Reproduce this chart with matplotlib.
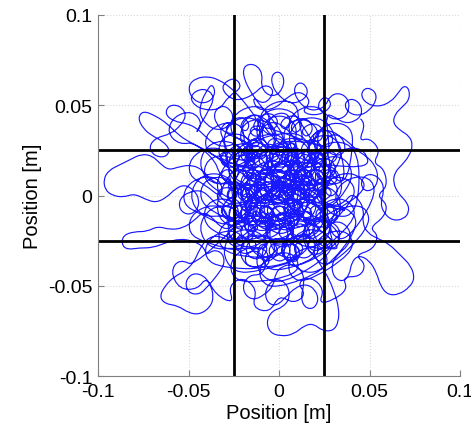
import numpy as np
import matplotlib.pyplot as plt
from matplotlib.path import Path
from matplotlib.patches import PathPatch

plt.rcParams["font.family"] = ["Liberation Sans", "DejaVu Sans"]

# trajectory pieces, in millimetres
core_1 = [(0, 0), (6, 3), (10, 9), (9, 15), (4, 18), (-2, 16), (-5, 10), (-3, 4), (2, 1), (8, 2),
          (13, 6), (15, 12), (13, 18), (8, 22), (2, 23), (-4, 21), (-9, 16), (-12, 9), (-11, 2),
          (-7, -3), (-1, -5), (5, -3), (9, 1), (10, 7), (7, 11), (2, 11), (-1, 7), (1, 2), (6, -2),
          (12, -3), (17, 0), (20, 5), (19, 11), (15, 15), (10, 14), (8, 9), (11, 4), (17, 2),
          (23, 4), (26, 9), (25, 15), (21, 19), (16, 18), (14, 13)]

top_loops = [(15, 8), (18, 14), (19, 21), (16, 27), (11, 31), (5, 32), (0, 29), (-2, 24), (1, 19),
             (6, 18), (10, 22), (10, 28), (7, 34), (2, 39), (-4, 41), (-9, 38), (-11, 32), (-8, 27),
             (-3, 27), (-1, 32), (-3, 38), (-8, 43), (-14, 45), (-19, 42), (-21, 36), (-18, 31),
             (-13, 30), (-10, 35), (-12, 42), (-17, 49), (-22, 55), (-27, 60), (-33, 64), (-39, 66),
             (-46, 65), (-50, 61), (-49, 55), (-44, 51), (-38, 52), (-35, 57), (-37, 62), (-40, 58),
             (-43, 52), (-44, 45), (-40, 39), (-34, 36), (-28, 38), (-25, 43), (-27, 48), (-32, 50),
             (-36, 46), (-35, 40), (-30, 35), (-24, 32), (-18, 30), (-14, 25), (-13, 19), (-16, 14),
             (-21, 13), (-24, 17), (-22, 22), (-17, 24), (-11, 22), (-7, 17), (-6, 11)]

top_center = [(-3, 14), (1, 20), (3, 27), (2, 34), (-2, 40), (-7, 46), (-12, 52), (-16, 58),
              (-19, 64), (-20, 70), (-17, 73), (-12, 72), (-9, 67), (-10, 61), (-7, 56), (-2, 55),
              (2, 59), (3, 65), (0, 69), (-4, 67), (-4, 61), (0, 55), (6, 51), (12, 52), (16, 56),
              (15, 61), (11, 63), (8, 59), (10, 53), (15, 48), (21, 47), (26, 50), (28, 55),
              (33, 57), (38, 54), (39, 48), (36, 43), (30, 42), (26, 45)]

upper_right = [(30, 44), (36, 40), (42, 41), (46, 45), (45, 51), (40, 54), (36, 51), (38, 46),
               (44, 44), (50, 47), (54, 53), (53, 58), (48, 60), (45, 56), (48, 51), (55, 49),
               (62, 52), (66, 57), (69, 61), (72, 59), (72, 53), (68, 49), (64, 45), (63, 40),
               (67, 36), (72, 33), (74, 28), (72, 22), (68, 17), (64, 13), (63, 7), (66, 1),
               (71, -4), (72, -9), (69, -13), (63, -14), (58, -10), (56, -4), (58, 2), (57, 8),
               (52, 12), (47, 11), (45, 6), (48, 2), (53, 4), (55, 10), (53, 17), (48, 22),
               (43, 25), (38, 30), (32, 34), (27, 33), (25, 28), (28, 23), (34, 22), (37, 26),
               (35, 32), (29, 36), (22, 36), (17, 32), (16, 26), (19, 22), (24, 20), (28, 15),
               (29, 9), (26, 4), (21, 2)]

lower_right = [(24, -3), (30, -6), (36, -4), (40, 1), (44, -2), (47, -8), (46, -15), (49, -21),
               (55, -24), (61, -27), (67, -33), (73, -39), (75, -46), (72, -51), (66, -55),
               (60, -55), (56, -50), (54, -43), (50, -36), (44, -33), (40, -37), (39, -44),
               (35, -48), (30, -45), (29, -38), (33, -32), (38, -28), (40, -22), (37, -16),
               (31, -14), (26, -18), (24, -24), (27, -29), (32, -29), (34, -23), (30, -17),
               (24, -13), (18, -13)]

bottom = [(14, -17), (13, -24), (16, -30), (20, -34), (24, -40), (28, -47), (31, -55), (33, -62),
          (33, -70), (30, -75), (24, -75), (19, -71), (14, -72), (8, -77), (1, -78), (-5, -76),
          (-7, -70), (-4, -64), (2, -62), (6, -57), (5, -50), (0, -46), (-5, -48), (-8, -54),
          (-6, -60), (-1, -61), (4, -56), (9, -51), (15, -49), (20, -52), (22, -58), (19, -63),
          (14, -62), (12, -56), (14, -49), (13, -42), (8, -38), (2, -39), (-2, -43), (-3, -50),
          (-8, -55), (-14, -58), (-19, -55), (-20, -49), (-16, -44), (-10, -44), (-7, -39),
          (-9, -33), (-14, -30), (-19, -33), (-18, -39), (-12, -40), (-6, -36), (-2, -30),
          (3, -27), (9, -27), (12, -31), (10, -37), (4, -36), (1, -31), (3, -24), (8, -20),
          (9, -14), (5, -9), (-1, -10)]

lower_left = [(-6, -14), (-12, -16), (-17, -20), (-22, -24), (-28, -25), (-34, -22), (-40, -24),
              (-44, -30), (-47, -37), (-52, -42), (-58, -45), (-63, -50), (-66, -56), (-63, -60),
              (-56, -61), (-50, -65), (-44, -66), (-38, -62), (-36, -56), (-38, -49), (-42, -44),
              (-48, -43), (-52, -48), (-50, -54), (-44, -55), (-39, -50), (-34, -44), (-30, -38),
              (-31, -32), (-36, -30), (-40, -33), (-42, -28), (-48, -25), (-55, -24), (-62, -26),
              (-70, -29), (-77, -29), (-84, -30), (-87, -27), (-86, -22), (-80, -20), (-73, -20),
              (-67, -17), (-60, -19), (-53, -18), (-47, -14), (-42, -9), (-37, -12), (-33, -17),
              (-28, -19), (-23, -15), (-20, -9), (-22, -3), (-27, -1), (-31, -5), (-30, -11),
              (-24, -13), (-18, -10), (-14, -4)]

left_lobe = [(-16, 2), (-21, 6), (-27, 8), (-33, 6), (-38, 9), (-42, 14), (-48, 17), (-55, 16),
             (-61, 14), (-66, 18), (-70, 22), (-76, 23), (-82, 20), (-88, 17), (-94, 14), (-97, 9),
             (-96, 3), (-92, 0), (-86, -1), (-80, 1), (-74, -2), (-68, -4), (-62, -1), (-57, 4),
             (-52, 6), (-47, 3), (-44, -2), (-45, -8), (-50, -11), (-55, -8), (-55, -2), (-50, 2),
             (-43, 3), (-38, -1), (-34, -6), (-28, -6), (-24, -1), (-26, 5), (-31, 9), (-34, 15)]

upper_left = [(-35, 18), (-40, 24), (-46, 28), (-52, 31), (-57, 35), (-62, 40), (-68, 44),
              (-75, 47), (-78, 43), (-75, 37), (-70, 33), (-64, 30), (-60, 25), (-63, 21),
              (-69, 22), (-72, 27), (-68, 32), (-60, 34), (-54, 39), (-51, 45), (-55, 50),
              (-61, 50), (-63, 45), (-58, 41), (-51, 40), (-45, 37), (-40, 32), (-35, 28),
              (-29, 27), (-24, 29)]

core_2 = [(-20, 25), (-15, 20), (-9, 21), (-5, 26), (-8, 31), (-14, 32), (-18, 27), (-16, 20),
          (-10, 15), (-4, 14), (1, 10), (-1, 4), (-6, 1), (-12, -1), (-17, -5), (-19, -11),
          (-16, -17), (-10, -20), (-4, -18), (-1, -13), (-4, -7), (-9, -6), (-11, -11), (-8, -16),
          (-2, -21), (4, -21), (9, -17), (13, -11), (16, -5), (20, -2), (25, 2), (27, 8), (24, 13),
          (19, 15), (14, 11), (13, 5), (16, -1), (21, -6), (25, -11), (24, -17), (19, -21),
          (13, -22), (8, -26), (3, -29), (-3, -27), (-7, -22), (-5, -16), (0, -13), (6, -11),
          (9, -6), (7, 0), (2, 3), (-4, 2), (-8, 6), (-7, 12), (-2, 15), (4, 13), (7, 8), (5, 2),
          (0, -1), (-5, -3), (-10, -2), (-14, 3), (-13, 9), (-8, 11), (-3, 8), (0, 3)]

core_3 = [(3, -3), (8, -9), (14, -13), (19, -11), (21, -5), (18, 1), (12, 3), (8, 8), (9, 14),
          (14, 18), (20, 20), (24, 25), (22, 30), (16, 31), (12, 27), (13, 21), (18, 18), (22, 12),
          (21, 5), (16, 3), (10, 5), (4, 7), (-2, 5), (-8, 1), (-13, -4), (-15, -10), (-12, -15),
          (-6, -15), (-3, -10), (-6, -5), (-12, -6), (-17, -2), (-19, 4), (-17, 10), (-12, 13),
          (-6, 15), (0, 17), (5, 21), (6, 27), (2, 31), (-4, 32), (-7, 28), (-4, 23), (2, 22),
          (7, 18), (9, 12), (6, 6), (1, 4), (-4, -1), (-7, -8), (-5, -13), (1, -15), (6, -12),
          (7, -6), (3, -2), (-2, -3), (-5, 2), (-3, 8), (3, 10), (9, 8)]

core_4 = [(-35, 20), (-30, 25), (-24, 26), (-21, 21), (-25, 17), (-30, 19), (-28, 25), (-22, 29),
          (-16, 28), (-14, 22), (-18, 18), (-22, 22), (-18, 28), (-11, 30), (-6, 26), (-8, 20),
          (-13, 21), (-11, 27), (-4, 29), (1, 25), (-1, 19), (-6, 20), (-4, 26), (3, 28), (8, 24),
          (6, 18), (1, 19), (3, 25), (10, 27), (15, 22), (12, 17), (7, 19), (10, 25), (17, 26),
          (21, 21), (18, 15), (13, 17), (16, 23), (23, 24), (27, 19), (24, 13), (19, 15), (22, 21),
          (29, 20), (32, 14), (28, 9), (24, 12)]

core_5 = [(30, 8), (33, 3), (29, -1), (25, 2), (28, 7), (24, 10), (19, 7), (21, 1), (26, 0),
          (24, 6), (18, 9), (13, 5), (16, -1), (21, 1), (18, 7), (11, 9), (7, 4), (11, -1), (15, 3),
          (11, 8), (4, 9), (1, 3), (5, -1), (9, 3), (4, 8), (-3, 8), (-5, 2), (-1, -1), (2, 4),
          (-3, 8), (-10, 7), (-11, 1), (-7, -1), (-5, 4), (-10, 8), (-16, 6), (-17, 0), (-13, -2),
          (-11, 3), (-16, 7), (-22, 5), (-23, -1), (-19, -3), (-17, 2), (-22, 6), (-28, 4),
          (-29, -2), (-25, -4), (-23, 1), (-28, 5), (-34, 3), (-34, -3), (-30, -5)]

core_6 = [(-32, -8), (-30, -13), (-25, -14), (-23, -9), (-27, -6), (-28, -12), (-23, -16),
          (-18, -14), (-17, -9), (-21, -7), (-22, -13), (-16, -17), (-11, -15), (-10, -10),
          (-14, -8), (-15, -14), (-9, -18), (-4, -16), (-3, -11), (-7, -9), (-8, -15), (-2, -19),
          (3, -17), (4, -12), (0, -9), (-1, -15), (5, -19), (10, -16), (11, -11), (7, -9),
          (6, -15), (12, -18), (17, -15), (18, -10), (14, -8), (13, -14), (19, -17), (24, -14),
          (25, -9), (21, -7), (20, -13), (26, -15), (31, -11), (30, -6), (26, -5)]

core_7 = [(28, -20), (30, -26), (26, -30), (21, -28), (23, -23), (27, -26), (24, -32), (18, -33),
          (15, -28), (18, -24), (21, -29), (16, -35), (10, -34), (8, -29), (11, -25), (14, -30),
          (9, -36), (3, -35), (1, -30), (4, -26), (7, -31), (2, -37), (-4, -35), (-6, -30),
          (-3, -26), (0, -31), (-5, -37), (-11, -35), (-12, -29), (-8, -26), (-6, -31), (-12, -36),
          (-18, -33), (-18, -27), (-14, -24), (-12, -29), (-18, -33), (-24, -30), (-24, -24),
          (-20, -21), (-18, -26), (-24, -29), (-29, -25), (-28, -19), (-23, -18)]

core_8 = [(-30, 30), (-33, 36), (-29, 41), (-24, 39), (-25, 34), (-30, 35), (-27, 41), (-21, 44),
          (-16, 40), (-18, 35), (-22, 38), (-18, 44), (-11, 45), (-8, 40), (-11, 35), (-15, 38),
          (-11, 44), (-4, 46), (0, 41), (-3, 36), (-7, 39), (-3, 45), (4, 46), (7, 41), (4, 36),
          (0, 39), (4, 44), (11, 44), (13, 38), (9, 34), (6, 38), (10, 43), (17, 42), (19, 36),
          (15, 32), (12, 36), (17, 40), (23, 39), (25, 33), (21, 29), (18, 33), (23, 37), (29, 35),
          (30, 29), (26, 26)]

core_9 = [(-12, 40), (-17, 36), (-13, 32), (-9, 35), (-14, 38), (-18, 31), (-14, 26), (-10, 29),
          (-15, 32), (-19, 25), (-15, 20), (-11, 23), (-16, 26), (-20, 19), (-16, 14), (-12, 17),
          (-17, 20), (-21, 13), (-17, 8), (-13, 11), (-18, 14), (-22, 7), (-18, 2), (-14, 5),
          (-19, 8), (-22, 1), (-18, -4), (-14, -1), (-19, 2), (-22, -5), (-18, -10), (-14, -7),
          (-19, -4), (-22, -11), (-17, -16), (-13, -13), (-18, -10), (-20, -17), (-15, -21),
          (-11, -18), (-14, -14), (-8, -14), (-2, -18), (3, -14), (8, -18), (12, -13), (8, -9),
          (5, -13), (10, -7), (14, -10), (12, -4), (7, -2), (9, -7), (13, 1), (9, 4), (6, -1),
          (11, 6), (14, 10), (9, 11), (7, 6), (12, 13), (10, 18), (6, 15), (8, 10), (12, 19),
          (8, 24), (4, 20), (8, 16), (11, 25), (7, 30), (3, 26), (7, 22), (10, 32)]

core_10 = [(-23, 20), (-26, 25), (-32, 23), (-32, 17), (-26, 15),
           (-16, 20), (-19, 25), (-25, 23), (-25, 17), (-19, 15),
           (-9, 20), (-12, 25), (-18, 23), (-18, 17), (-12, 15),
           (-2, 20), (-5, 25), (-11, 23), (-11, 17), (-5, 15),
           (5, 20), (2, 25), (-4, 23), (-4, 17), (2, 15),
           (12, 20), (9, 25), (3, 23), (3, 17), (9, 15),
           (19, 20), (16, 25), (10, 23), (10, 17), (16, 15),
           (26, 20), (23, 25), (17, 23), (17, 17), (23, 15),
           (33, 20), (30, 25), (24, 23), (24, 17), (30, 15),
           (23, 10), (26, 15), (32, 13), (32, 7), (26, 5),
           (16, 10), (19, 15), (25, 13), (25, 7), (19, 5),
           (9, 10), (12, 15), (18, 13), (18, 7), (12, 5),
           (2, 10), (5, 15), (11, 13), (11, 7), (5, 5),
           (-5, 10), (-2, 15), (4, 13), (4, 7), (-2, 5),
           (-12, 10), (-9, 15), (-3, 13), (-3, 7), (-9, 5),
           (-19, 10), (-16, 15), (-10, 13), (-10, 7), (-16, 5),
           (-26, 10), (-23, 15), (-17, 13), (-17, 7), (-23, 5),
           (-33, 10), (-30, 15), (-24, 13), (-24, 7), (-30, 5)]

core_11 = [(-19, 0), (-22, 5), (-28, 3), (-28, -3), (-22, -5),
           (-12, 0), (-15, 5), (-21, 3), (-21, -3), (-15, -5),
           (-5, 0), (-8, 5), (-14, 3), (-14, -3), (-8, -5),
           (2, 0), (-1, 5), (-7, 3), (-7, -3), (-1, -5),
           (9, 0), (6, 5), (0, 3), (0, -3), (6, -5),
           (16, 0), (13, 5), (7, 3), (7, -3), (13, -5),
           (23, 0), (20, 5), (14, 3), (14, -3), (20, -5),
           (30, 0), (27, 5), (21, 3), (21, -3), (27, -5),
           (23, -10), (26, -5), (32, -7), (32, -13), (26, -15),
           (16, -10), (19, -5), (25, -7), (25, -13), (19, -15),
           (9, -10), (12, -5), (18, -7), (18, -13), (12, -15),
           (2, -10), (5, -5), (11, -7), (11, -13), (5, -15),
           (-5, -10), (-2, -5), (4, -7), (4, -13), (-2, -15),
           (-12, -10), (-9, -5), (-3, -7), (-3, -13), (-9, -15),
           (-19, -10), (-16, -5), (-10, -7), (-10, -13), (-16, -15),
           (-26, -10), (-23, -5), (-17, -7), (-17, -13), (-23, -15),
           (-33, -10), (-30, -5), (-24, -7), (-24, -13), (-30, -15),
           (-19, -20), (-22, -15), (-28, -17), (-28, -23), (-22, -25),
           (-12, -20), (-15, -15), (-21, -17), (-21, -23), (-15, -25),
           (-5, -20), (-8, -15), (-14, -17), (-14, -23), (-8, -25),
           (2, -20), (-1, -15), (-7, -17), (-7, -23), (-1, -25),
           (9, -20), (6, -15), (0, -17), (0, -23), (6, -25),
           (16, -20), (13, -15), (7, -17), (7, -23), (13, -25),
           (23, -20), (20, -15), (14, -17), (14, -23), (20, -25)]

ring_1 = [(41, -3), (42, 6), (34, 11), (25, 8), (22, -1), (28, -8),
          (38, 4), (41, 13), (36, 21), (27, 22), (21, 15), (24, 6),
          (33, 17), (35, 27), (28, 34), (18, 32), (15, 23), (21, 16),
          (21, 27), (22, 37), (14, 43), (4, 40), (2, 30), (9, 23),
          (9, 29), (10, 39), (2, 45), (-8, 42), (-10, 32), (-3, 25),
          (-3, 27), (-2, 37), (-10, 43), (-20, 40), (-22, 30), (-15, 23),
          (-15, 19), (-14, 29), (-22, 35), (-32, 32), (-34, 22), (-27, 15),
          (-23, 8), (-22, 18), (-30, 23), (-40, 20), (-42, 10), (-35, 3),
          (-25, -3), (-24, 6), (-32, 11), (-42, 8), (-44, -2), (-37, -9),
          (-23, -15), (-22, -6), (-30, -1), (-40, -4), (-42, -14), (-35, -21),
          (-15, -27), (-14, -18), (-22, -13), (-32, -16), (-34, -26), (-27, -33),
          (-3, -35), (-2, -26), (-10, -21), (-20, -24), (-22, -34), (-15, -41),
          (9, -37), (10, -28), (2, -23), (-8, -26), (-10, -36), (-3, -43),
          (21, -35), (22, -26), (14, -21), (4, -24), (2, -34), (9, -41),
          (33, -27), (34, -18), (26, -13), (16, -16), (14, -26), (21, -33),
          (41, -15), (42, -6), (34, -1), (24, -4), (22, -14), (29, -21)]

ring_2 = [(18, 14), (25, 10), (25, 2), (18, -2), (11, 2), (11, 10),
          (18, 2), (25, -2), (26, -10), (19, -14), (11, -11), (10, -3),
          (13, -8), (20, -12), (20, -20), (13, -24), (5, -20), (5, -12),
          (1, -12), (8, -16), (8, -24), (1, -28), (-7, -24), (-7, -16),
          (-11, -8), (-4, -12), (-4, -20), (-11, -24), (-19, -20), (-19, -12),
          (-17, 2), (-10, -2), (-10, -10), (-17, -14), (-25, -10), (-25, -2),
          (-17, 14), (-10, 10), (-10, 2), (-17, -2), (-25, 2), (-25, 10),
          (-11, 24), (-4, 20), (-4, 12), (-11, 8), (-19, 12), (-19, 20),
          (1, 28), (8, 24), (8, 16), (1, 12), (-7, 16), (-7, 24),
          (13, 24), (20, 20), (20, 12), (13, 8), (5, 12), (5, 20)]

ring_3 = [(50, 14), (48, 25), (38, 27), (29, 21), (28, 11), (37, 6),
          (41, 27), (40, 38), (30, 41), (20, 35), (19, 25), (28, 19),
          (27, 37), (25, 48), (15, 50), (6, 44), (5, 34), (14, 29),
          (11, 40), (10, 51), (0, 53), (-10, 47), (-11, 37), (-2, 32),
          (-5, 37), (-6, 48), (-16, 50), (-26, 44), (-27, 34), (-18, 29),
          (-19, 28), (-20, 39), (-30, 41), (-40, 35), (-41, 25), (-32, 20),
          (-28, 14), (-29, 25), (-39, 27), (-49, 21), (-50, 11), (-41, 6),
          (-31, -2), (-32, 9), (-42, 11), (-52, 5), (-53, -5), (-44, -10),
          (-28, -18), (-29, -7), (-39, -5), (-49, -11), (-50, -21), (-41, -26),
          (-19, -32), (-20, -21), (-30, -19), (-40, -25), (-41, -35), (-32, -40),
          (-5, -41), (-6, -30), (-16, -28), (-26, -34), (-27, -44), (-18, -49),
          (11, -44), (10, -33), (0, -31), (-10, -37), (-11, -47), (-2, -52),
          (27, -41), (26, -30), (16, -28), (6, -34), (5, -44), (14, -49),
          (41, -32), (40, -21), (30, -19), (20, -25), (19, -35), (28, -40),
          (50, -18), (49, -7), (39, -5), (29, -11), (28, -21), (37, -26),
          (53, -2), (52, 9), (42, 11), (32, 5), (31, -5), (40, -10)]

ring_4 = [(6, 1), (4, 6), (-2, 6), (-6, 1), (-4, -4), (2, -5),
          (14, 8), (12, 14), (6, 14), (2, 9), (4, 3), (10, 3),
          (-2, 9), (-4, 14), (-10, 14), (-14, 9), (-12, 3), (-6, 3),
          (-2, -7), (-4, -2), (-10, -2), (-14, -7), (-12, -12), (-6, -13),
          (14, -7), (12, -2), (6, -2), (2, -7), (4, -12), (10, -13),
          (6, 13), (4, 18), (-2, 18), (-6, 13), (-4, 8), (2, 7),
          (6, -11), (4, -6), (-2, -6), (-6, -11), (-4, -16), (2, -17),
          (18, 1), (16, 6), (10, 6), (6, 1), (8, -4), (14, -5),
          (-6, 1), (-8, 6), (-14, 6), (-18, 1), (-16, -4), (-10, -5)]

ring_5 = [(23, 19), (34, 13), (35, -1), (23, -7), (12, -1), (12, 13),
          (22, 7), (34, 1), (34, -13), (23, -19), (12, -13), (11, 0),
          (17, -4), (28, -10), (28, -24), (17, -30), (6, -24), (6, -10),
          (7, -10), (17, -16), (17, -30), (6, -36), (-5, -30), (-5, -16),
          (-5, -10), (5, -16), (5, -30), (-6, -36), (-17, -30), (-17, -16),
          (-16, -4), (-6, -10), (-6, -24), (-17, -30), (-28, -24), (-28, -10),
          (-22, 7), (-12, 1), (-12, -13), (-23, -19), (-34, -13), (-34, 1),
          (-22, 19), (-12, 13), (-12, -1), (-23, -7), (-34, -1), (-34, 13),
          (-16, 30), (-6, 24), (-6, 10), (-17, 4), (-28, 10), (-28, 24),
          (-5, 36), (5, 30), (5, 16), (-6, 10), (-17, 16), (-17, 30),
          (7, 36), (17, 30), (17, 16), (6, 10), (-5, 16), (-5, 30),
          (18, 30), (28, 24), (28, 10), (17, 4), (6, 10), (6, 24)]

ring_6 = [(22, 1), (15, 12), (1, 12), (-6, 0), (1, -12), (15, -12),
          (18, 8), (11, 19), (-3, 19), (-10, 7), (-3, -5), (11, -5),
          (10, 8), (3, 19), (-11, 19), (-18, 7), (-11, -5), (3, -5),
          (6, 1), (-1, 12), (-15, 12), (-22, 0), (-15, -12), (-1, -12),
          (10, -6), (3, 5), (-11, 5), (-18, -7), (-11, -19), (3, -19),
          (18, -6), (11, 5), (-3, 5), (-10, -7), (-3, -19), (11, -19)]

ring_7 = [(50, 2), (43, 13), (29, 11), (22, 0), (29, -12), (43, -11),
          (45, 19), (38, 30), (24, 29), (17, 18), (24, 6), (38, 7),
          (32, 32), (25, 43), (11, 43), (4, 31), (11, 19), (25, 20),
          (14, 37), (7, 48), (-7, 48), (-14, 36), (-7, 24), (7, 25),
          (-4, 32), (-11, 43), (-25, 43), (-32, 31), (-25, 19), (-11, 20),
          (-17, 19), (-24, 30), (-38, 30), (-45, 18), (-38, 6), (-24, 7),
          (-22, 1), (-29, 12), (-43, 12), (-50, 0), (-43, -12), (-29, -11),
          (-17, -17), (-24, -6), (-38, -6), (-45, -18), (-38, -30), (-24, -29),
          (-4, -30), (-11, -19), (-25, -19), (-32, -31), (-25, -43), (-11, -42),
          (14, -35), (7, -24), (-7, -24), (-14, -36), (-7, -48), (7, -47),
          (32, -30), (25, -19), (11, -19), (4, -31), (11, -43), (25, -42),
          (45, -17), (38, -6), (24, -6), (17, -18), (24, -30), (38, -29)]

outer_1 = [(-45, 30), (-55, 28), (-62, 35), (-58, 44), (-48, 47), (-42, 40), (-47, 33),
           (-40, 45), (-35, 55), (-42, 60), (-50, 55), (-45, 48), (-33, 47), (-28, 55),
           (-20, 60), (-25, 66), (-33, 60), (-25, 52), (-15, 55), (-8, 62), (-2, 58), (-8, 50),
           (-15, 55), (-12, 47), (-2, 48), (5, 55), (12, 58), (18, 52), (12, 46), (22, 44),
           (30, 50), (25, 56), (20, 48), (32, 42)]

outer_2 = [(-45, -40), (-55, -35), (-60, -42), (-55, -52), (-45, -52), (-40, -45), (-35, -55),
           (-25, -60), (-28, -50), (-20, -45), (-12, -52), (-15, -62), (-5, -65), (0, -55),
           (8, -60), (15, -55), (10, -48), (18, -45), (25, -52), (22, -60), (30, -58), (38, -52),
           (35, -45), (45, -45), (48, -38), (42, -33), (52, -30), (55, -22), (50, -18), (58, -12),
           (60, -5), (54, 0), (60, 5), (58, 15), (52, 18), (56, 25), (50, 32), (44, 30), (48, 40),
           (42, 45)]

pieces = [core_1, top_loops, top_center, upper_right, lower_right, bottom, lower_left,
          left_lobe, upper_left, core_2, core_3, core_4, core_5, core_6, core_7, core_8, core_9,
          core_10, core_11, ring_1, ring_2, ring_3, ring_4, ring_5, ring_6, ring_7,
          outer_1, outer_2]
track = np.array([p for piece in pieces for p in piece], dtype=float) / 1000.0

bounds = [-0.025, 0.025]
ticks = [-0.1, -0.05, 0, 0.05, 0.1]
tick_labels = ["-0.1", "-0.05", "0", "0.05", "0.1"]

# smooth curve through the track: track points act as quadratic control points
mids = (track[:-1] + track[1:]) / 2
verts = [mids[0]]
codes = [Path.MOVETO]
for i in range(1, len(track) - 1):
    verts += [track[i], mids[i]]
    codes += [Path.CURVE3, Path.CURVE3]

fig = plt.figure(figsize=(4.71, 4.35), dpi=100)
ax = fig.add_axes([98 / 471, 1 - 377 / 435, 362 / 471, 361 / 435])

ax.add_patch(PathPatch(Path(verts, codes), facecolor="none", edgecolor="#0000ff",
                       lw=0.85, alpha=0.9))
for b in bounds:
    ax.axvline(b, color="black", lw=2)
    ax.axhline(b, color="black", lw=2)

ax.set_xlim(-0.1, 0.1)
ax.set_ylim(-0.1, 0.1)
ax.set_xticks(ticks)
ax.set_xticklabels(tick_labels)
ax.set_yticks(ticks)
ax.set_yticklabels(tick_labels)
ax.grid(True, color="#d8d8d8", linestyle=":", lw=0.8)
ax.set_axisbelow(True)
for side in ["top", "right"]:
    ax.spines[side].set_visible(False)
for side in ["left", "bottom"]:
    ax.spines[side].set_color("#808080")
ax.tick_params(direction="in", length=4, color="#808080", labelsize=14)
ax.tick_params(axis="x", pad=5)
ax.tick_params(axis="y", pad=4)
ax.set_xlabel("Position [m]", fontsize=14.5, labelpad=2)
ax.set_ylabel("Position [m]", fontsize=14.5, labelpad=4)

fig.savefig("out.png", dpi=100)
